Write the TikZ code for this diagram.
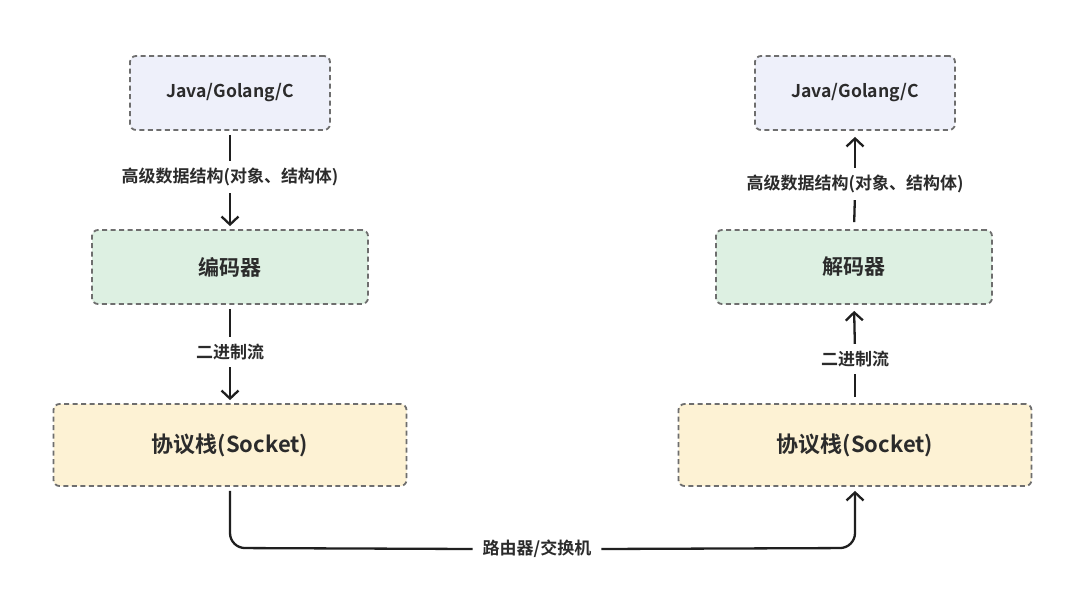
\documentclass[tikz,border=0pt]{standalone}
\usepackage{fontspec}
\setmainfont{Noto Sans CJK SC}[BoldFont={Noto Sans CJK SC Bold}]
\usetikzlibrary{arrows.meta}
\definecolor{bordergray}{HTML}{6E6E6E}
\definecolor{langfill}{HTML}{EEF0FA}
\definecolor{codecfill}{HTML}{DDF0E2}
\definecolor{sockfill}{HTML}{FDF2D4}
\definecolor{txt}{HTML}{2B2B2B}
\tikzset{
  box/.style={draw=bordergray, line width=1.8pt, dash pattern=on 5pt off 3.5pt,
    rounded corners=6pt, text=txt, font=\bfseries, inner sep=0pt},
  langbox/.style={box, fill=langfill, minimum width=200pt, minimum height=74pt, font=\bfseries\fontsize{17.6}{20}\selectfont},
  codecbox/.style={box, fill=codecfill, minimum width=276pt, minimum height=74pt, font=\bfseries\fontsize{21}{24}\selectfont},
  sockbox/.style={box, fill=sockfill, minimum width=353pt, minimum height=82pt, font=\bfseries\fontsize{22}{25}\selectfont},
  lbl/.style={text=txt, font=\bfseries\fontsize{17}{19}\selectfont, inner sep=0pt, minimum height=16pt},
  conn/.style={draw=black!88, line width=2.3pt},
  arr/.style={conn, -{Straight Barb[length=8pt,width=17pt,line width=2.3pt]}},
}
\begin{document}
\begin{tikzpicture}[x=1pt,y=-1pt]
\useasboundingbox[fill=white] (0,0) rectangle (1080,610);
% left column
\node[langbox] (lt) at (230,93) {Java/Golang/C};
\node[codecbox] (enc) at (230,267) {编码器};
\node[sockbox] (ls) at (230,445) {协议栈(Socket)};
\node[lbl] (l1) at (230,177) {高级数据结构(对象、结构体)};
\node[lbl] (l2) at (230,352) {二进制流};
% right column
\node[langbox] (rt) at (855,93) {Java/Golang/C};
\node[codecbox] (dec) at (854,267) {解码器};
\node[sockbox] (rs) at (855,445) {协议栈(Socket)};
\node[lbl] (r1) at (855,184) {高级数据结构(对象、结构体)};
\node[lbl] (r2) at (855,359) {二进制流};
% bottom
\coordinate (bl) at (230,548);
\coordinate (br) at (855,548);
\node[lbl, fill=white, inner xsep=10pt] (net) at (537,549) {路由器/交换机};
% connectors left
\draw[conn, shorten <=4pt, shorten >=7pt] (lt.south) -- (l1.north);
\draw[arr, shorten <=7pt, shorten >=3pt] (l1.south) -- (enc.north);
\draw[conn, shorten <=4pt, shorten >=7pt] (enc.south) -- (l2.north);
\draw[arr, shorten <=7pt, shorten >=3pt] (l2.south) -- (ls.north);
% connectors right
\draw[conn, shorten <=7pt, shorten >=7pt] (dec.north) -- (r1.south);
\draw[arr, shorten <=7pt, shorten >=6pt] (r1.north) -- (rt.south);
\draw[conn, shorten <=6pt, shorten >=7pt] (rs.north) -- (r2.south);
\draw[arr, shorten <=7pt, shorten >=6pt] (r2.north) -- (dec.south);
% bottom connector
\draw[conn, rounded corners=15pt, shorten <=4pt] (ls.south) -- (bl) -- (net.west);
\draw[arr, rounded corners=15pt, shorten >=4pt] (net.east) -- (br) -- (rs.south);
\end{tikzpicture}
\end{document}
